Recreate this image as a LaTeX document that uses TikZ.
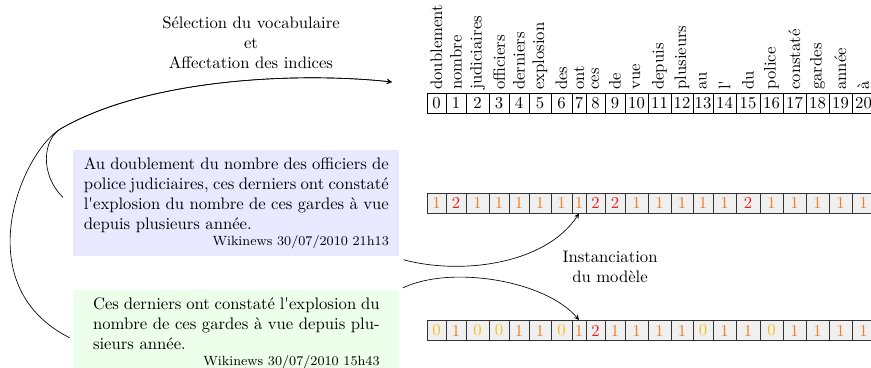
\documentclass[tikz,border=0pt]{standalone}
\usepackage{tikz}
\usetikzlibrary{arrows}
\definecolor{val0}{RGB}{245,190,30}
\definecolor{val1}{RGB}{240,125,40}
\definecolor{val2}{RGB}{235,30,30}

\begin{document}
\begin{tikzpicture}[x=0.6pt,y=-0.6pt]
        \tikzstyle{cell} = [rectangle, draw=black, minimum height=12pt, inner sep=0pt]
        \tikzstyle{vcell} = [cell, fill=gray!12, draw=black!80, line width=0.6pt]
        \tikzstyle{word} = [rotate=90, anchor=west, inner sep=0pt]
        \tikzstyle{textbox} = [rectangle, anchor=north west, minimum width=195.6pt, inner xsep=0pt, inner ysep=4.5pt]
        \tikzstyle{arrow} = [->,>=stealth]
        \useasboundingbox (0,0) rectangle (871,367);

        % vocabulary, indices and the two vectors
        \foreach \i/\a/\b/\w/\p/\q in {0/427/446/doublement/1/0, 1/446/466/nombre/2/1,
                2/466/489/judiciaires/1/0, 3/489/509/officiers/1/0, 4/509/529/derniers/1/1,
                5/529/551/explosion/1/1, 6/551/572/des/1/0, 7/572/586/ont/1/1,
                8/586/605/ces/2/2, 9/605/625/de/2/1, 10/625/648/vue/1/1,
                11/648/671/depuis/1/1, 12/671/693/plusieurs/1/1, 13/693/713/au/1/0,
                14/713/736/{l\textquotesingle}/1/1, 15/736/760/du/2/1, 16/760/783/police/1/0,
                17/783/806/constaté/1/1, 18/806/829/gardes/1/1, 19/829/852/année/1/1,
                20/852/875/à/1/1}
        {
            \node (w\i) [word] at ({(\a+\b)/2},90) {\w};
            \node (idx\i) [cell, minimum width={(\b-\a)*0.6pt}] at ({(\a+\b)/2},103) {\i};
            \node (va\i) [vcell, text=val\p, minimum width={(\b-\a)*0.6pt}] at ({(\a+\b)/2},203) {\p};
            \node (vb\i) [vcell, text=val\q, minimum width={(\b-\a)*0.6pt}] at ({(\a+\b)/2},330.5) {\q};
        }

        % the two sentences
        \node (blue) [textbox, fill=blue!9] at (73,150) {\parbox{183pt}{Au doublement du nombre des officiers de\linebreak police judiciaires, ces derniers ont constaté\linebreak l\textquotesingle explosion du nombre de ces gardes à vue\linebreak depuis plusieurs année.\par
            {\footnotesize\hfill Wikinews 30/07/2010 21h13\par}}};
        \node (green) [textbox, fill=green!8] at (73,290) {\parbox{172pt}{Ces derniers ont constaté l\textquotesingle explosion du\linebreak nombre de ces gardes à vue depuis plu-\linebreak{}sieurs année.\par
            {\footnotesize\hfill Wikinews 30/07/2010 15h43\par}}};

        \node (select) [align=center] at (251,43) {Sélection du vocabulaire\\et\\Affectation des indices};
        \node (inst) [align=center] at (610,267) {Instanciation\\du modèle};

        \coordinate (merge) at (62,128);
        \coordinate (vocab) at (392,82);

        \draw [arrow] ([xshift=-6pt,yshift=3.6pt]blue.west) .. controls (40,175) and (42,139) .. (merge) .. controls (150,78) and (300,72) .. (vocab);
        \draw [arrow] ([xshift=-2pt,yshift=-2.7pt]green.west) .. controls (-35,285) and (22,150) .. (merge) .. controls (150,78) and (300,72) .. (vocab);
        \draw [arrow] ([xshift=2.4pt,yshift=-1.8pt]blue.south east) .. controls (460,275) and (545,265) .. (va7.south);
        \draw [arrow] ([xshift=1.8pt,yshift=1.2pt]green.north east) .. controls (450,265) and (545,280) .. (vb7.north);
\end{tikzpicture}
\end{document}
